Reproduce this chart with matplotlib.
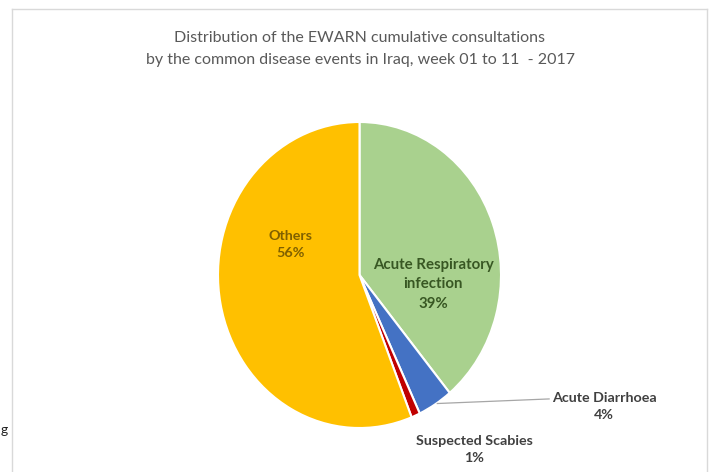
import matplotlib.pyplot as plt
from matplotlib.lines import Line2D

plt.rcParams['font.family'] = ['Lato', 'DejaVu Sans']

# slices, clockwise from 12 o'clock
labels = ['Acute Respiratory\ninfection', 'Acute Diarrhoea', 'Suspected Scabies', 'Others']
values = [39, 4, 1, 56]
colors = ['#A9D18E', '#4472C4', '#C00000', '#FFC000']

W, H = 711, 472
fig = plt.figure(figsize=(W / 100, H / 100), dpi=100)

# pie box in pixels: x 218..501, y 122..428 (slightly stretched like the source)
ax = fig.add_axes([218 / W, (H - 428) / H, 283 / W, 306 / H])
wedges, _ = ax.pie(values, colors=colors, startangle=90, counterclock=False,
                   wedgeprops=dict(edgecolor='white', linewidth=1.5))
ax.set_aspect('auto')
ax.set_xlim(-1, 1)
ax.set_ylim(-1, 1)
ax.axis('off')

pct = ['%d%%' % v for v in values]
fs = 10.3
ls = 1.5

ax.text(0.52, -0.06, labels[0] + '\n' + pct[0], ha='center', va='center',
        fontsize=fs + 0.5, fontweight='bold', color='#385723', linespacing=ls)
ax.text(-0.49, 0.2, labels[3] + '\n' + pct[3], ha='center', va='center',
        fontsize=fs, fontweight='bold', color='#7F6000', linespacing=ls)
ax.text(1.73, -0.86, labels[1] + '\n' + pct[1], ha='center', va='center',
        fontsize=fs, fontweight='bold', color='#404040', linespacing=ls)
ax.text(0.81, -1.14, labels[2] + '\n' + pct[2], ha='center', va='center',
        fontsize=fs, fontweight='bold', color='#404040', linespacing=ls)

# leader line for Acute Diarrhoea
ax.plot([0.55, 1.34], [-0.84, -0.81], color='#A6A6A6', linewidth=0.9, clip_on=False)

fig.text(360 / W, 1 - 49 / H,
         'Distribution of the EWARN cumulative consultations\n'
         'by the common disease events in Iraq, week 01 to 11  - 2017',
         ha='center', va='center', fontsize=11.5, color='#595959', linespacing=1.7)

# chart frame (cut off at the bottom)
fc = '#D9D9D9'
fig.add_artist(Line2D([12 / W, 12 / W], [0, 1 - 9 / H], color=fc, linewidth=1))
fig.add_artist(Line2D([12 / W, 707 / W], [1 - 9 / H, 1 - 9 / H], color=fc, linewidth=1))
fig.add_artist(Line2D([707 / W, 707 / W], [0, 1 - 9 / H], color=fc, linewidth=1))

# stray glyph at the very left edge
fig.text(0.5 / W, 1 - 430 / H, 'g', ha='left', va='center', fontsize=10, color='#222222')

fig.savefig('out.png', dpi=100)
